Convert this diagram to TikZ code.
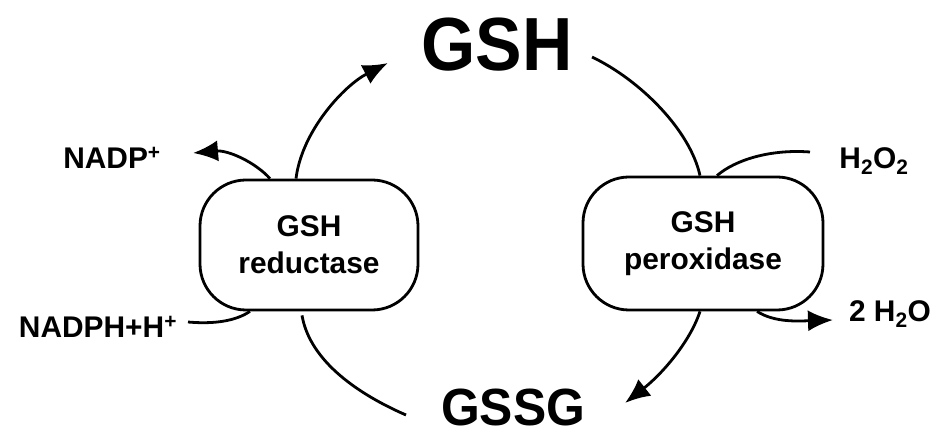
\documentclass[tikz,border=0pt]{standalone}
\usepackage{fontspec}
\setmainfont{Liberation Sans}
\usetikzlibrary{arrows.meta}
\tikzset{
  enzyme/.style={draw, line width=2.8bp, rounded corners=46bp, align=center,
    font=\fontsize{30}{37}\selectfont\bfseries, inner sep=0pt},
  lbl/.style={inner sep=0pt, font=\fontsize{30}{36}\selectfont\bfseries},
  big/.style={inner sep=0pt},
  flow/.style={line width=2.8bp},
  flowarr/.style={line width=2.8bp, -{Latex[length=25bp,width=21bp]}},
}
\begin{document}
\begin{tikzpicture}[x=1bp,y=-1bp]
\useasboundingbox (0,0) rectangle (937,437);
% main metabolites
\node[big, font=\fontsize{70}{70}\selectfont\bfseries] (gsh) at (497,45) {\scalebox{1}[1.08]{GSH}};
\node[big, font=\fontsize{50}{50}\selectfont\bfseries] (gssg) at (513,407) {\scalebox{1}[1.05]{GSSG}};
% enzymes
\node[enzyme, minimum width=218bp, minimum height=130bp] (red) at (309,245) {GSH\\reductase};
\node[enzyme, minimum width=240bp, minimum height=133bp] (per) at (703,243.5) {GSH\\peroxidase};
% cofactors
\node[lbl] (nadp) at (112,158) {NADP\textsuperscript{+}};
\node[lbl] (nadph) at (98,327) {NADPH+H\textsuperscript{+}};
\node[lbl] (hoo) at (874,161) {H\textsubscript{2}O\textsubscript{2}};
\node[lbl] (wat) at (890,314) {2 H\textsubscript{2}O};
% connector end points
\coordinate (gshIn) at (388,63);
\coordinate (gshOut) at (592,57);
\coordinate (gssgIn) at (625,403);
\coordinate (gssgOut) at (406,415);
\coordinate (nadpIn) at (193,153);
\coordinate (nadphOut) at (188,322);
\coordinate (hooOut) at (810,152);
\coordinate (watIn) at (833,320);
% reductase reactions
\draw[flowarr] ([xshift=-13bp]red.north) .. controls (302,130) and (345,85) .. (gshIn);
\draw[flowarr] ([xshift=-39bp]red.north) .. controls (255,162) and (228,150) .. (nadpIn);
\draw[flow] (nadphOut) .. controls (222,325) and (240,318) .. ([xshift=-59bp]red.south);
\draw[flow] ([xshift=-7bp,yshift=-4bp]red.south) .. controls (310,362) and (360,395) .. (gssgOut);
% peroxidase reactions
\draw[flow] (gshOut) .. controls (640,80) and (690,130) .. ([xshift=-3bp]per.north);
\draw[flow] (hooOut) .. controls (770,149) and (735,160) .. ([xshift=14bp]per.north);
\draw[flowarr] ([xshift=-3bp]per.south) .. controls (690,342) and (662,374) .. (gssgIn);
\draw[flowarr] ([xshift=54bp]per.south) .. controls (775,323) and (800,321) .. (watIn);
\end{tikzpicture}
\end{document}
